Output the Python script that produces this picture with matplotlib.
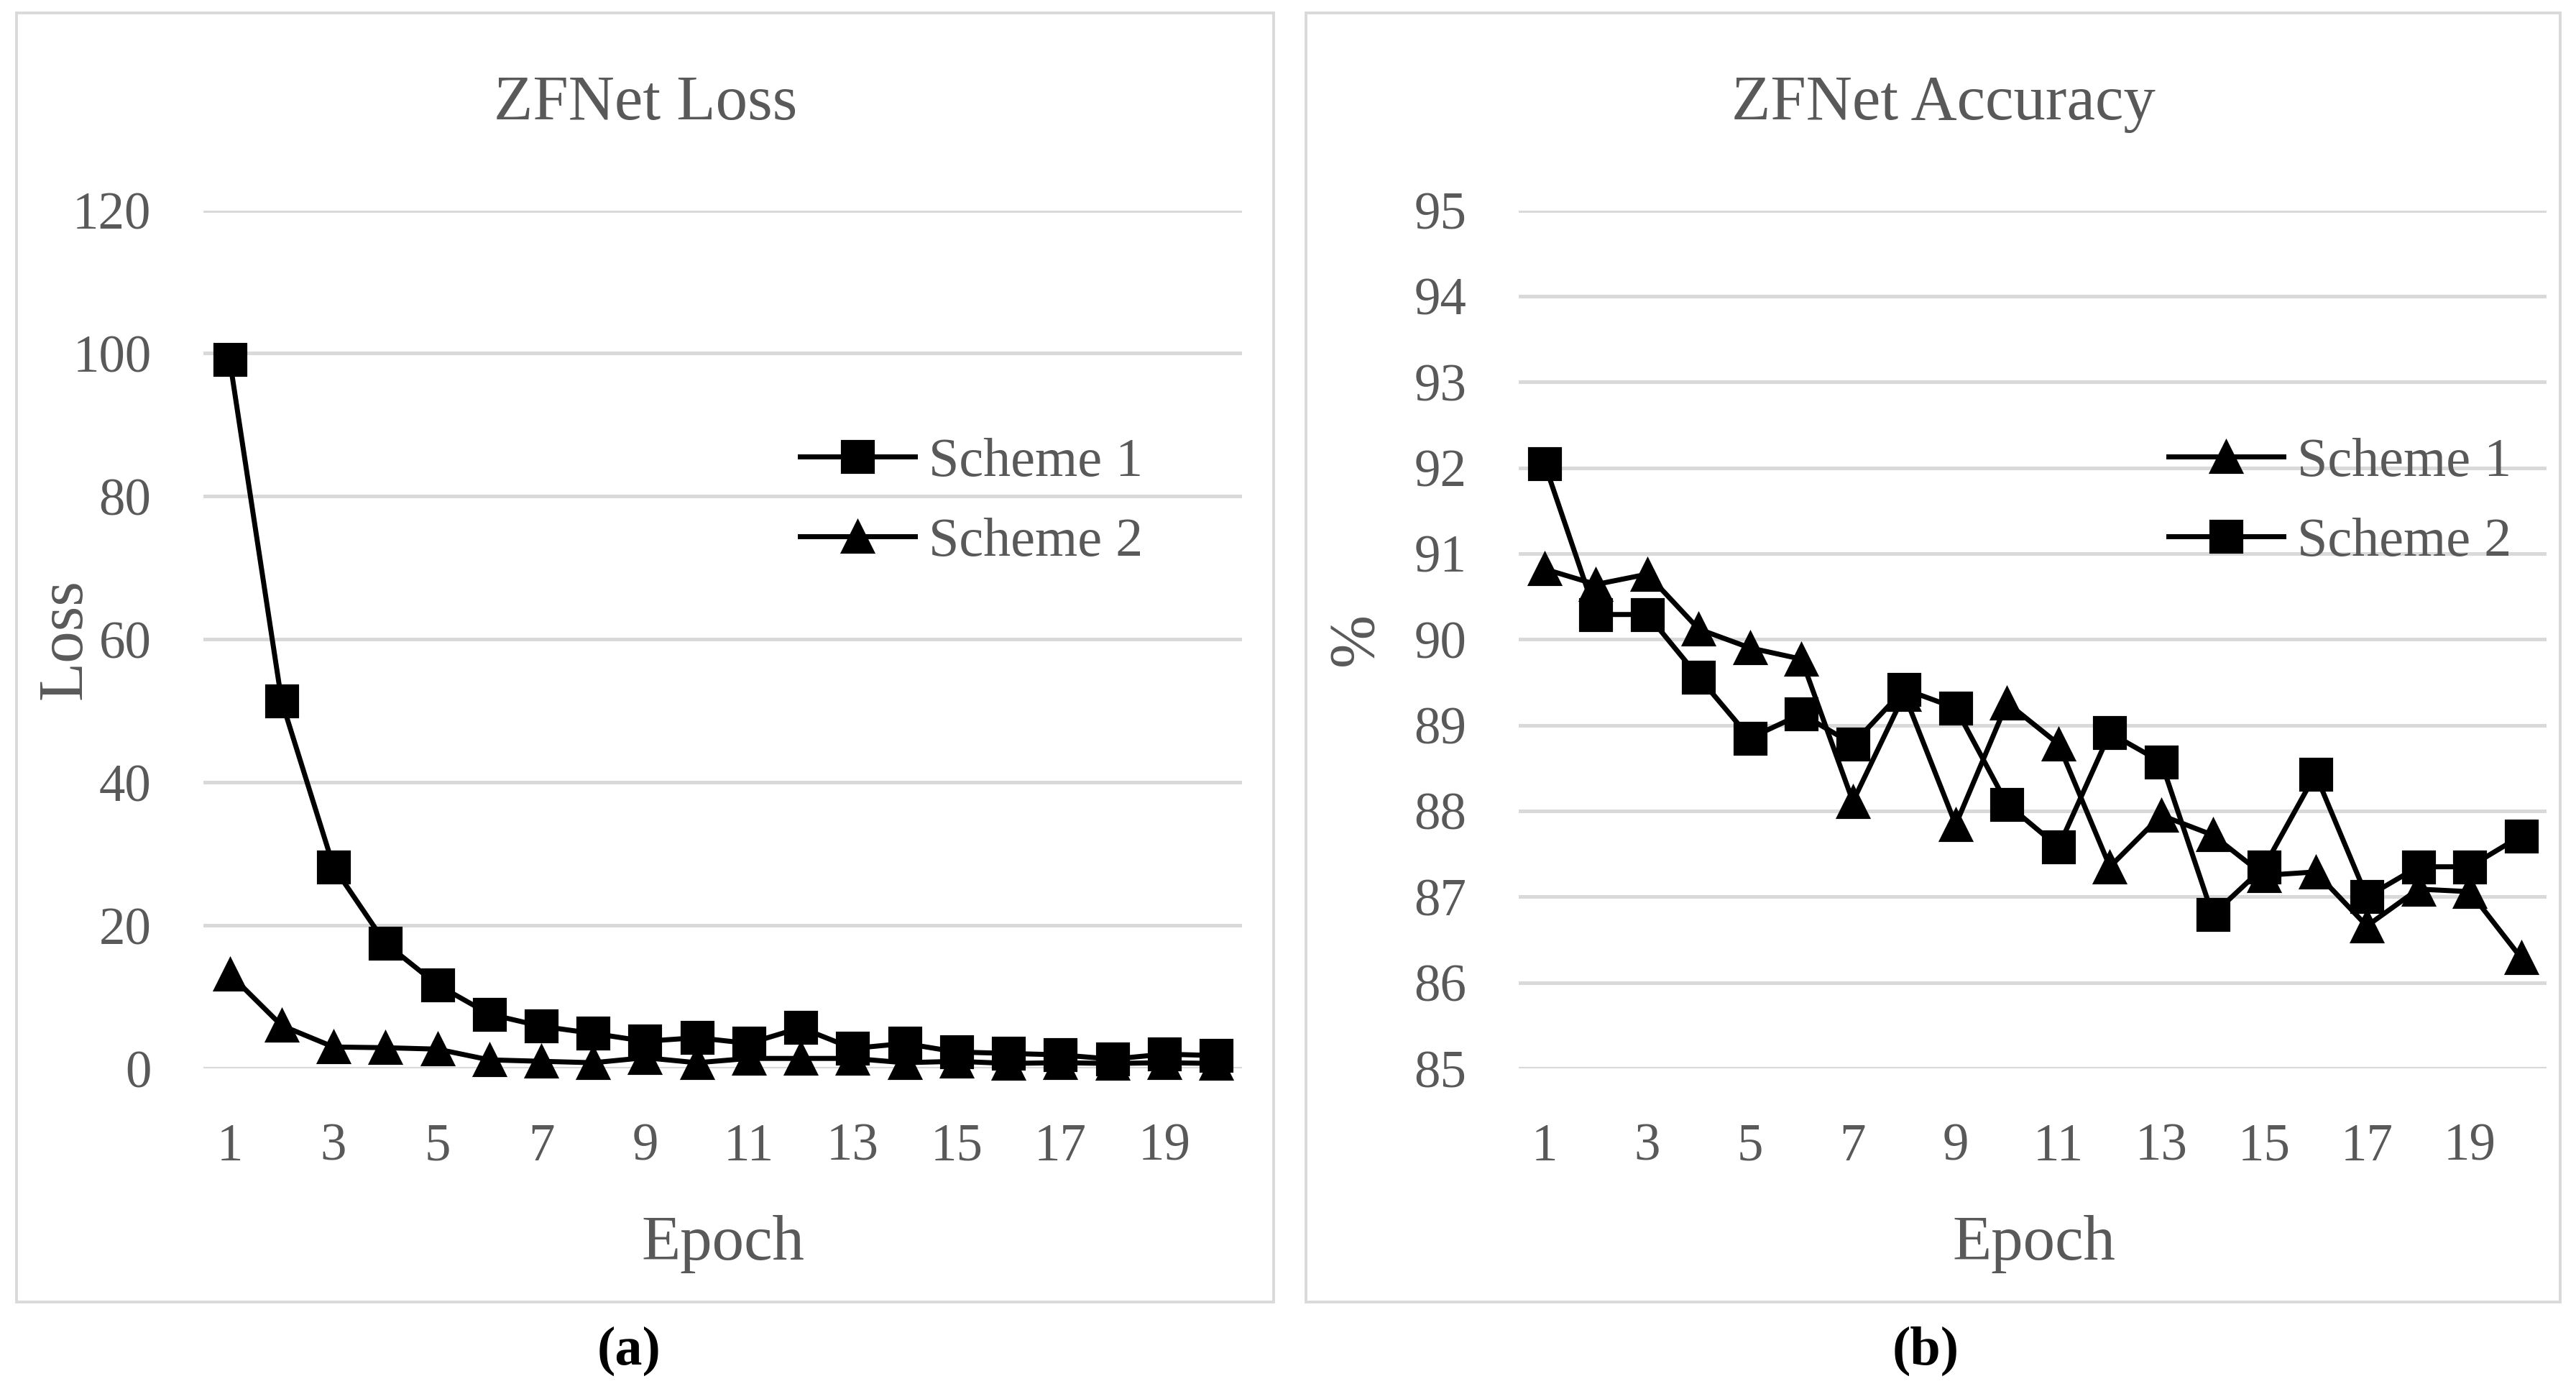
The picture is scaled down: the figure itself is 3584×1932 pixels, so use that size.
import numpy as np
import matplotlib.pyplot as plt
from matplotlib.patches import Rectangle

# data
epochs = np.arange(1, 21)

loss_scheme1 = [99.1, 51.4, 28.2, 17.5, 11.7, 7.6, 5.9, 4.9, 3.8, 4.3,
                3.5, 5.7, 2.8, 3.5, 2.3, 2.1, 1.9, 1.3, 2.0, 1.8]
loss_scheme2 = [13.2, 6.0, 3.0, 2.9, 2.7, 1.2, 1.0, 0.8, 1.5, 0.8,
                1.4, 1.4, 1.4, 0.8, 1.0, 0.7, 0.8, 0.7, 0.8, 0.7]

acc_scheme1 = [90.82, 90.64, 90.76, 90.12, 89.90, 89.77, 88.11, 89.36, 87.84, 89.26,
               88.78, 87.35, 87.95, 87.72, 87.25, 87.29, 86.66, 87.09, 87.06, 86.29]
acc_scheme2 = [92.05, 90.29, 90.29, 89.56, 88.85, 89.13, 88.78, 89.42, 89.20, 88.08,
               87.58, 88.91, 88.57, 86.79, 87.35, 88.43, 87.00, 87.35, 87.35, 87.71]

xtick_labels = [1, 3, 5, 7, 9, 11, 13, 15, 17, 19]
loss_ticks = [0, 20, 40, 60, 80, 100, 120]
acc_ticks = list(range(85, 96))

grey_text = '#595959'
grid_col = '#d9d9d9'
plt.rcParams['font.family'] = ['Liberation Serif', 'DejaVu Serif']

W, H = 1568, 845  # layout measured in reference pixels (scaled)
fig = plt.figure(figsize=(15.68, 8.452), dpi=228.6)

def fx(px):
    return px / W

def fy(py):
    return 1 - py / H

# panel frames
for x0, x1 in [(10, 775), (795, 1558)]:
    fig.patches.append(Rectangle((fx(x0), fy(792)), fx(x1) - fx(x0), fy(8) - fy(792),
                                 transform=fig.transFigure, fill=False,
                                 edgecolor=grid_col, linewidth=1.2))

ax1 = fig.add_axes([fx(124), fy(650), fx(756) - fx(124), fy(128) - fy(650)])
ax2 = fig.add_axes([fx(924.4), fy(650), fx(1550) - fx(924.4), fy(128) - fy(650)])

lw = 2.2
ms = 14

ax1.plot(epochs, loss_scheme1, color='black', lw=lw, marker='s', ms=ms, label='Scheme 1', zorder=4)
ax1.plot(epochs, loss_scheme2, color='black', lw=lw, marker='^', ms=ms, label='Scheme 2', zorder=3)
ax1.set_ylim(0, 120)
ax1.set_yticks(loss_ticks)

ax2.plot(epochs, acc_scheme1, color='black', lw=lw, marker='^', ms=ms, label='Scheme 1', zorder=3)
ax2.plot(epochs, acc_scheme2, color='black', lw=lw, marker='s', ms=ms, label='Scheme 2', zorder=4)
ax2.set_ylim(85, 95)
ax2.set_yticks(acc_ticks)

for ax in (ax1, ax2):
    ax.set_xlim(0.5, 20.5)
    ax.set_xticks(xtick_labels)
    for s in ax.spines.values():
        s.set_visible(False)
    ax.grid(axis='y', color=grid_col, linewidth=1.6, zorder=0)
    ax.set_axisbelow(True)
    ax.tick_params(axis='both', length=0, labelsize=23, labelcolor=grey_text)
    ax.tick_params(axis='x', pad=24)
    ax.tick_params(axis='y', pad=23)
    for c in ax.get_lines():
        c.set_clip_on(False)

ax1.legend(loc='center left', bbox_to_anchor=(0.574, 0.660), frameon=False, fontsize=24,
           handlelength=2.1, handletextpad=0.25, borderpad=0, borderaxespad=0,
           labelspacing=0.55, labelcolor=grey_text)
ax2.legend(loc='center left', bbox_to_anchor=(0.632, 0.660), frameon=False, fontsize=24,
           handlelength=2.1, handletextpad=0.25, borderpad=0, borderaxespad=0,
           labelspacing=0.55, labelcolor=grey_text)

# titles and axis labels
fig.text(fx(393), fy(63), 'ZFNet Loss', ha='center', va='center', fontsize=28, color=grey_text)
fig.text(fx(1183), fy(63), 'ZFNet Accuracy', ha='center', va='center', fontsize=28, color=grey_text)
fig.text(fx(440), fy(757), 'Epoch', ha='center', va='center', fontsize=28, color=grey_text)
fig.text(fx(1238), fy(757), 'Epoch', ha='center', va='center', fontsize=28, color=grey_text)
fig.text(fx(40), fy(389), 'Loss', ha='center', va='center', rotation=90, fontsize=28, color=grey_text)
fig.text(fx(825), fy(389), '%', ha='center', va='center', rotation=90, fontsize=28, color=grey_text)

fig.text(fx(383), fy(822), '(a)', ha='center', va='center', fontsize=24, fontweight='bold', color='black')
fig.text(fx(1172), fy(822), '(b)', ha='center', va='center', fontsize=24, fontweight='bold', color='black')

fig.savefig('out.png', dpi=228.6)
